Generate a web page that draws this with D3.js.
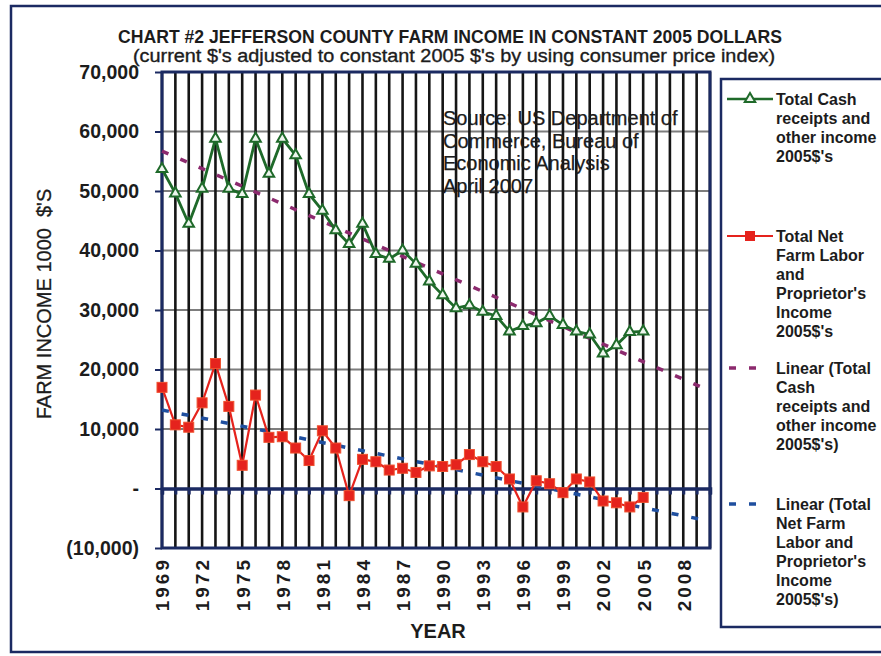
<!DOCTYPE html>
<html>
<head>
<meta charset="utf-8">
<script src="https://cdn.jsdelivr.net/npm/d3@7"></script>
<style>
  body { margin: 0; background: #fff; }
  text { font-family: "Liberation Sans", Arial, sans-serif; fill: #1c1c1c; }
</style>
</head>
<body>
<div id="container"></div>
<script>
// years with data
const years = [1969, 1970, 1971, 1972, 1973, 1974, 1975, 1976, 1977, 1978, 1979, 1980,
    1981, 1982, 1983, 1984, 1985, 1986, 1987, 1988, 1989, 1990, 1991, 1992, 1993,
    1994, 1995, 1996, 1997, 1998, 1999, 2000, 2001, 2002, 2003, 2004, 2005];

// total cash receipts and other income, 2005 $ (thousands)
const cashIncome = [53700, 49600, 44500, 50400, 58800, 50400, 49500, 58800, 52900, 58800,
    56000, 49500, 46700, 43400, 41100, 44500, 39400, 38600, 40000, 37800, 34800, 32500,
    30300, 30800, 29700, 29000, 26400, 27300, 27800, 29000, 27500, 26400, 25900, 22700,
    24100, 26300, 26400];

// total net farm labor and proprietor's income, 2005 $ (thousands)
const netIncome = [17000, 10700, 10300, 14400, 21000, 13800, 3900, 15700, 8600, 8700,
    6800, 4700, 9700, 6800, -1200, 4900, 4500, 3100, 3400, 2700, 3800, 3700, 4000, 5700,
    4500, 3700, 1600, -3100, 1300, 800, -700, 1600, 1100, -2100, -2400, -3100, -1500];

// linear trendlines (endpoints, forecast to 2010)
const trendYears = [1969, 2010];
const cashTrend = [56700, 16400];
const netTrend = [13200, -5500];

// axis ticks
const yTicks = [-10000, 0, 10000, 20000, 30000, 40000, 50000, 60000, 70000];
const yearLabels = [1969, 1972, 1975, 1978, 1981, 1984, 1987, 1990, 1993, 1996, 1999, 2002, 2005, 2008];
const gridYears = [1969, 1970, 1971, 1972, 1973, 1974, 1975, 1976, 1977, 1978, 1979, 1980,
    1981, 1982, 1983, 1984, 1985, 1986, 1987, 1988, 1989, 1990, 1991, 1992, 1993, 1994,
    1995, 1996, 1997, 1998, 1999, 2000, 2001, 2002, 2003, 2004, 2005, 2006, 2007, 2008,
    2009, 2010];

const legendItems = [
    {key: "cash", lines: ["Total Cash", "receipts and", "other income", "2005$'s"]},
    {key: "net", lines: ["Total Net", "Farm Labor", "and", "Proprietor's", "Income", "2005$'s"]},
    {key: "cashTrend", lines: ["Linear (Total", "Cash", "receipts and", "other income", "2005$'s)"]},
    {key: "netTrend", lines: ["Linear (Total", "Net Farm", "Labor and", "Proprietor's", "Income", "2005$'s)"]}
];
const sourceLines = ["Source: US Department of", "Commerce, Bureau of", "Economic Analysis", "April 2007"];

const width = 881, height = 656;
const navy = "#1b2a62";
const green = "#1f6a2a", red = "#e5231d", purple = "#8c2a6e", blue = "#1f4f9f";

const x = d3.scaleLinear().domain([1969, 2010]).range([162, 710]);
const y = d3.scaleLinear().domain([-10000, 70000]).range([548, 72]);

const svg = d3.create("svg")
    .attr("width", width)
    .attr("height", height)
    .attr("viewBox", [0, 0, width, height]);

// outer frame
svg.append("rect")
    .attr("x", 11).attr("y", 6)
    .attr("width", 900).attr("height", 646)
    .attr("fill", "#fff")
    .attr("stroke", navy).attr("stroke-width", 2.5);

// titles
svg.append("text")
    .attr("x", 450).attr("y", 43)
    .attr("text-anchor", "middle")
    .attr("font-size", 18).attr("font-weight", "bold")
    .attr("textLength", 664).attr("lengthAdjust", "spacingAndGlyphs")
    .text("CHART #2 JEFFERSON COUNTY FARM INCOME IN CONSTANT 2005 DOLLARS");
svg.append("text")
    .attr("x", 454).attr("y", 62)
    .attr("text-anchor", "middle")
    .attr("font-size", 18)
    .attr("stroke", "#1c1c1c").attr("stroke-width", 0.35)
    .attr("textLength", 642).attr("lengthAdjust", "spacingAndGlyphs")
    .text("(current $'s adjusted to constant 2005 $'s by using consumer price index)");

// grid
const grid = svg.append("g");
grid.selectAll("line.h")
    .data(yTicks.filter(d => d !== 0 && d !== -10000 && d !== 70000))
    .join("line")
    .attr("x1", x(1969)).attr("x2", x(2010))
    .attr("y1", d => y(d)).attr("y2", d => y(d))
    .attr("stroke", "#7d7d7d").attr("stroke-width", 2);
grid.selectAll("line.v")
    .data(gridYears)
    .join("line")
    .attr("x1", d => x(d)).attr("x2", d => x(d))
    .attr("y1", y(70000)).attr("y2", y(-10000))
    .attr("stroke", "#151515").attr("stroke-width", 2.6);

// source note
svg.append("g")
    .selectAll("text")
    .data(sourceLines)
    .join("text")
    .attr("x", 443)
    .attr("y", (d, i) => 125 + i * 22.5)
    .attr("font-size", 20)
    .attr("stroke", "#1c1c1c").attr("stroke-width", 0.25)
    .text(d => d);

// zero line axis with ticks hanging down
svg.append("g")
    .attr("transform", `translate(0,${y(0)})`)
    .call(d3.axisBottom(x).tickValues(gridYears).tickSize(6).tickFormat(""))
    .call(g => g.select(".domain").attr("stroke", navy).attr("stroke-width", 3.5))
    .call(g => g.selectAll(".tick line").attr("stroke", navy).attr("stroke-width", 3));

// plot frame
svg.append("rect")
    .attr("x", x(1969)).attr("y", y(70000))
    .attr("width", x(2010) - x(1969)).attr("height", y(-10000) - y(70000))
    .attr("fill", "none")
    .attr("stroke", navy).attr("stroke-width", 3);

// y axis
const fmt = d3.format(",");
svg.append("g")
    .attr("transform", `translate(${x(1969)},0)`)
    .call(d3.axisLeft(y).tickValues(yTicks).tickSize(7).tickPadding(16)
        .tickFormat(d => d === 0 ? "-" : d < 0 ? `(${fmt(-d)})` : fmt(d)))
    .call(g => g.select(".domain").remove())
    .call(g => g.selectAll(".tick line").attr("stroke", navy).attr("stroke-width", 2))
    .call(g => g.selectAll(".tick text")
        .attr("font-size", 19.5).attr("font-weight", "bold")
        .attr("font-family", "'Liberation Sans', Arial, sans-serif")
        .attr("fill", "#1c1c1c"));

// x labels (low position)
svg.append("g")
    .attr("transform", `translate(0,${y(-10000)})`)
    .call(d3.axisBottom(x).tickValues(yearLabels).tickSize(0).tickFormat(d => d))
    .call(g => g.select(".domain").remove())
    .call(g => g.selectAll(".tick text")
        .attr("transform", "translate(0,9) rotate(-90)")
        .attr("x", 0).attr("y", 0).attr("dy", "0.36em")
        .attr("text-anchor", "end")
        .attr("font-size", 19).attr("font-weight", "bold")
        .attr("letter-spacing", 3)
        .attr("font-family", "'Liberation Sans', Arial, sans-serif")
        .attr("fill", "#1c1c1c"));

// axis titles
svg.append("text")
    .attr("transform", "translate(51,304) rotate(-90)")
    .attr("text-anchor", "middle")
    .attr("font-size", 20)
    .style("white-space", "pre")
    .attr("stroke", "#1c1c1c").attr("stroke-width", 0.3)
    .text("FARM INCOME 1000  $'S");
svg.append("text")
    .attr("x", 438).attr("y", 638)
    .attr("text-anchor", "middle")
    .attr("font-size", 20).attr("font-weight", "bold")
    .text("YEAR");

// trendlines
const trendLine = d3.line().x(d => x(d[0])).y(d => y(d[1]));
svg.append("path")
    .datum(trendYears.map((yr, i) => [yr, cashTrend[i]]))
    .attr("d", trendLine)
    .attr("fill", "none").attr("stroke", purple)
    .attr("stroke-width", 3.5).attr("stroke-dasharray", "7,13");
svg.append("path")
    .datum(trendYears.map((yr, i) => [yr, netTrend[i]]))
    .attr("d", trendLine)
    .attr("fill", "none").attr("stroke", blue)
    .attr("stroke-width", 3.5).attr("stroke-dasharray", "7,13");

// series
const seriesLine = d3.line().x(d => x(d[0])).y(d => y(d[1]));
const cashPts = years.map((yr, i) => [yr, cashIncome[i]]);
const netPts = years.map((yr, i) => [yr, netIncome[i]]);

svg.append("path")
    .datum(cashPts)
    .attr("d", seriesLine)
    .attr("fill", "none").attr("stroke", green).attr("stroke-width", 2.8);
svg.append("g")
    .selectAll("path")
    .data(cashPts)
    .join("path")
    .attr("transform", d => `translate(${x(d[0])},${y(d[1])})`)
    .attr("d", d3.symbol(d3.symbolTriangle, 48))
    .attr("fill", "#eef6ee").attr("stroke", green).attr("stroke-width", 2);

svg.append("path")
    .datum(netPts)
    .attr("d", seriesLine)
    .attr("fill", "none").attr("stroke", red).attr("stroke-width", 2.2);
svg.append("g")
    .selectAll("rect")
    .data(netPts)
    .join("rect")
    .attr("x", d => x(d[0]) - 5).attr("y", d => y(d[1]) - 5)
    .attr("width", 10).attr("height", 10)
    .attr("fill", red).attr("stroke", "#f0512f").attr("stroke-width", 1);

// legend
const legend = svg.append("g");
legend.append("rect")
    .attr("x", 721).attr("y", 79)
    .attr("width", 190).attr("height", 548)
    .attr("fill", "#fff")
    .attr("stroke", navy).attr("stroke-width", 2.5);

const legendTop = {cash: 99, net: 236, cashTrend: 368, netTrend: 504};
legendItems.forEach(item => {
    const ly = legendTop[item.key];
    const g = legend.append("g");
    if (item.key === "cash") {
        g.append("line").attr("x1", 727).attr("x2", 773).attr("y1", ly).attr("y2", ly)
            .attr("stroke", green).attr("stroke-width", 2.5);
        g.append("path").attr("transform", `translate(750,${ly})`)
            .attr("d", d3.symbol(d3.symbolTriangle, 48))
            .attr("fill", "#eef6ee").attr("stroke", green).attr("stroke-width", 2);
    } else if (item.key === "net") {
        g.append("line").attr("x1", 727).attr("x2", 773).attr("y1", ly).attr("y2", ly)
            .attr("stroke", red).attr("stroke-width", 2);
        g.append("rect").attr("x", 745).attr("y", ly - 5).attr("width", 10).attr("height", 10)
            .attr("fill", red);
    } else {
        g.append("line").attr("x1", 729).attr("x2", 763).attr("y1", ly).attr("y2", ly)
            .attr("stroke", item.key === "cashTrend" ? purple : blue)
            .attr("stroke-width", 3.5).attr("stroke-dasharray", "7,13");
    }
    g.selectAll("text")
        .data(item.lines)
        .join("text")
        .attr("x", 776)
        .attr("y", (d, i) => ly + 6 + i * 19)
        .attr("font-size", 16).attr("font-weight", "bold")
        .text(d => d);
});

d3.select("#container").node().append(svg.node());
</script>
</body>
</html>
